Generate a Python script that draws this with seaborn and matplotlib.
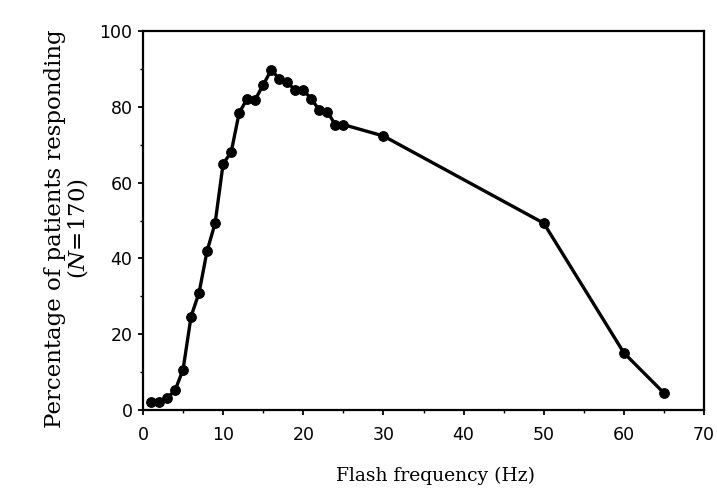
import numpy as np
import pandas as pd
import seaborn as sns
import matplotlib.pyplot as plt
from matplotlib.ticker import MultipleLocator

# Values
freq_hz = [1, 2, 3, 4, 5, 6, 7, 8, 9, 10, 11, 12, 13, 14, 15, 16, 17, 18,
           19, 20, 21, 22, 23, 24, 25, 30, 50, 60, 65]
pct_responding = [2.1, 2.1, 3.2, 5.2, 10.7, 24.7, 31, 42, 49.3, 65, 68, 78.4,
                  82.1, 81.9, 85.8, 89.7, 87.4, 86.5, 84.3, 84.4, 82.1, 79.1,
                  78.6, 75.3, 75.3, 72.3, 49.3, 15.1, 4.5]

df = pd.DataFrame({'freq': freq_hz, 'pct': pct_responding})

sns.set_style("ticks")
plt.rcParams['mathtext.fontset'] = 'dejavuserif'

fig = plt.figure(figsize=(7.17, 4.99), dpi=100)
ax = fig.add_axes([0.1994, 0.178, 0.7826, 0.760])

sns.lineplot(data=df, x='freq', y='pct', ax=ax, color='black', linewidth=2.4,
             marker='o', markersize=7, markeredgecolor='black',
             markerfacecolor='black')

ax.set_xlim(0, 70)
ax.set_ylim(0, 100)
ax.xaxis.set_major_locator(MultipleLocator(10))
ax.xaxis.set_minor_locator(MultipleLocator(5))
ax.yaxis.set_major_locator(MultipleLocator(20))
ax.yaxis.set_minor_locator(MultipleLocator(10))
ax.tick_params(which='major', length=3.5, width=1.3, color='black',
               labelsize=12.5, labelcolor='black', direction='out')
ax.tick_params(which='minor', length=2.5, width=1.0, color='black', direction='out')
ax.tick_params(axis='x', which='major', pad=8)
ax.tick_params(axis='y', which='major', pad=4)
for lbl in ax.get_xticklabels() + ax.get_yticklabels():
    lbl.set_family('DejaVu Sans')

for side in ['top', 'right', 'left', 'bottom']:
    ax.spines[side].set_visible(True)
    ax.spines[side].set_color('black')
    ax.spines[side].set_linewidth(1.6)

ax.set_xlabel('Flash frequency (Hz)', family='DejaVu Serif', fontsize=13.5,
              va='top', color='black')
ax.xaxis.set_label_coords(0.522, -0.15)
ax.set_ylabel('Percentage of patients responding\n($\\mathit{N}$=170)',
              family='DejaVu Serif', fontsize=16.5, linespacing=0.95,
              color='black')
ax.yaxis.set_label_coords(-0.094, 0.478)

fig.savefig('out.png', dpi=100, facecolor='white')
